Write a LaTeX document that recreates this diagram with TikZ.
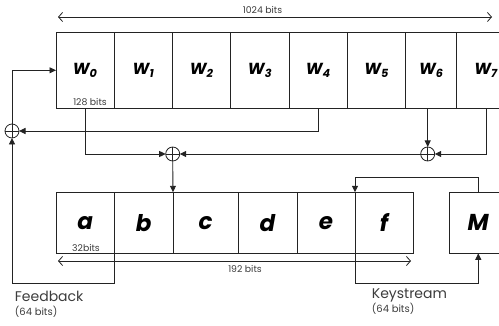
\documentclass[tikz,border=0pt]{standalone}
\usepackage{fontspec}
\setmainfont{Poppins}
\usetikzlibrary{arrows.meta,positioning}
\definecolor{LineGray}{RGB}{35,35,35}
\definecolor{TextGray}{RGB}{60,60,60}
\tikzset{
  regcell/.style={draw=LineGray,line width=0.9pt,minimum width=58.3pt,
    minimum height=76pt,inner sep=0pt,outer sep=0pt,
    font=\fontsize{16}{18}\selectfont\bfseries\itshape},
  statecell/.style={regcell,minimum height=61pt,
    font=\fontsize{23}{25}\selectfont\bfseries\itshape},
  xor/.style={circle,draw=LineGray,line width=0.8pt,minimum size=14pt,
    inner sep=0pt,outer sep=0pt,
    path picture={\draw[LineGray,line width=0.8pt]
      (path picture bounding box.north) -- (path picture bounding box.south)
      (path picture bounding box.west) -- (path picture bounding box.east);}},
  arrow/.style={-{Triangle[length=6.5pt,width=6pt]},line width=0.9pt,LineGray},
  dimline/.style={{Straight Barb[length=4pt,width=9pt]}-{Straight Barb[length=4pt,width=9pt]},
    line width=0.8pt,LineGray},
  sizelabel/.style={font=\fontsize{9.3}{11}\selectfont,text=TextGray,inner sep=0pt},
  caption/.style={font=\fontsize{14}{16}\selectfont,text=TextGray,
    align=left,anchor=north west,inner sep=0pt}
}
\newcommand{\wreg}[1]{W\textsubscript{#1}}

\begin{document}
\begin{tikzpicture}[x=1pt,y=-1pt]
  \clip (0,0) rectangle (499,326);
  % 1024-bit state
  \node[regcell,anchor=north west] (w0) at (56,32.3) {\wreg{0}};
  \node[regcell,right=0pt of w0] (w1) {\wreg{1}};
  \node[regcell,right=0pt of w1] (w2) {\wreg{2}};
  \node[regcell,right=0pt of w2] (w3) {\wreg{3}};
  \node[regcell,right=0pt of w3] (w4) {\wreg{4}};
  \node[regcell,right=0pt of w4] (w5) {\wreg{5}};
  \node[regcell,right=0pt of w5,minimum width=51pt] (w6) {\wreg{6}};
  \node[regcell,right=0pt of w6] (w7) {\wreg{7}};
  \node[sizelabel] (bits128) at (90,102.5) {128 bits};
  % 192-bit state
  \node[statecell,anchor=north west,minimum width=58.5pt] (a) at (56,192.3) {a};
  \node[statecell,right=0pt of a,minimum width=58.5pt] (b) {b};
  \node[statecell,right=0pt of b,minimum width=65pt] (c) {c};
  \node[statecell,right=0pt of c,minimum width=59pt] (d) {d};
  \node[statecell,right=0pt of d,minimum width=58pt] (e) {e};
  \node[statecell,right=0pt of e,minimum width=58pt] (f) {f};
  \node[statecell,anchor=north west,minimum width=58.6pt] (m) at (449,192.3) {M};
  \node[sizelabel] (bits32) at (86,248) {32bits};
  % xor
  \node[xor] (x1) at (12,131) {};
  \node[xor] (x2) at (172.7,154) {};
  \node[xor] (x3) at (427.7,154) {};
  \draw[arrow] (x1.north) |- (w0.west);
  \draw[arrow] (w4.south) |- (x1.east);
  \draw[arrow] (w0.south) |- (x2.west);
  \draw[arrow] (x3 |- w6.south) -- (x3.north);
  \draw[arrow] (w7.south) |- (x3.east);
  \draw[arrow] (x3.west) -- (x2.east);
  \draw[arrow] (x2.south) -- (c.north west);
  % feedback and keystream
  \coordinate (fb) at (12,283);
  \draw[arrow] (a.south east) |- (fb) -- (x1.south);
  \draw[arrow] (e.south east) -- (e.south east |- fb) -| (m.south);
  \draw[arrow] (m.north) -- ++(0,-15) -| (e.north east);
  % sizes
  \coordinate (topl) at (58,17);
  \coordinate (topr) at (492,17);
  \draw[dimline] (topl) -- (topr);
  \node[sizelabel] (bits1024) at (262.5,10) {1024 bits};
  \coordinate (botl) at (58,261);
  \coordinate (botr) at (411,261);
  \draw[dimline] (botl) -- (botr);
  \node[sizelabel] (bits192) at (245,269) {192 bits};
  \node[caption] (feedback) at (14.7,291) {Feedback\\[-2pt]{\fontsize{10}{11}\selectfont(64 bits)}};
  \node[caption] (keystream) at (371.7,289) {Keystream\\[-2.5pt]{\fontsize{10}{11}\selectfont(64 bits)}};
\end{tikzpicture}
\end{document}
